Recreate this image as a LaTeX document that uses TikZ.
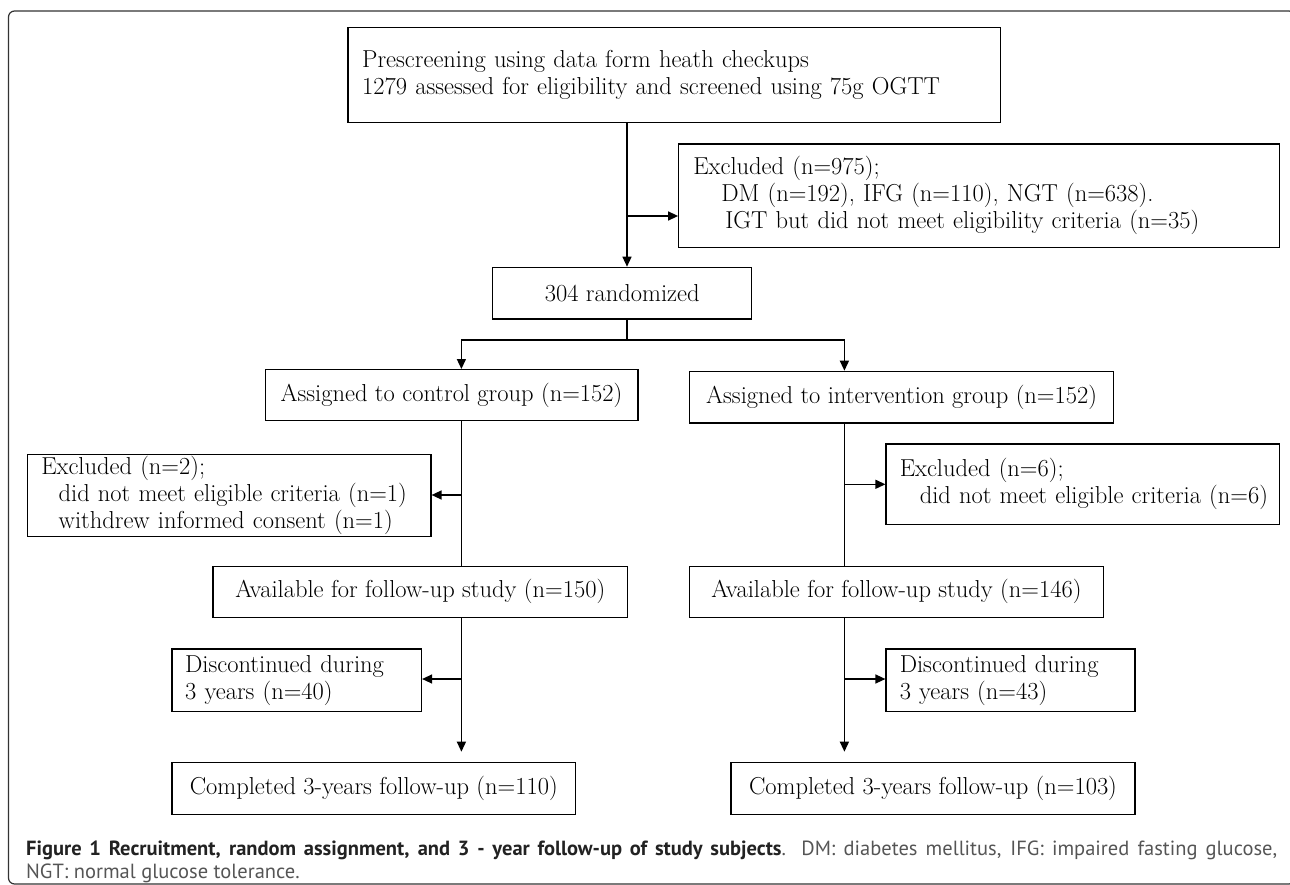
\documentclass[tikz,border=0pt]{standalone}
\usepackage{fontspec}
\newfontfamily\capfont{PT Sans}
\usetikzlibrary{arrows.meta,calc}
\definecolor{capgray}{HTML}{555555}
\definecolor{capdark}{HTML}{222222}
\definecolor{framec}{HTML}{333333}
\begin{document}
\begin{tikzpicture}[x=1pt,y=-1pt,
  bx/.style={draw, line width=1.3pt, inner sep=0pt, anchor=north west, font=\fontsize{24.5}{27}\selectfont},
  cbox/.style={bx, align=center},
  lbox/.style={bx, align=left},
  conn/.style={line width=1.4pt},
  arr/.style={conn, -{Triangle[length=10pt,width=9pt]}},
  capstyle/.style={anchor=base west, inner sep=0pt, font=\capfont\fontsize{20.5}{23}\selectfont}]
\useasboundingbox (0,0) rectangle (1290,885);
\draw[framec, line width=1.2pt, rounded corners=6pt] (8.5,11) rectangle (1295,884);

% boxes
\node[lbox, text width=623.9pt, inner xsep=14.1pt, minimum height=95pt] (pre) at (347.4,27)
  {Prescreening using data form heath checkups\\1279 assessed for eligibility and screened using 75g OGTT};
\node[lbox, text width=571.6pt, inner xsep=14.6pt, minimum height=103.4pt] (ex1) at (678.1,143.3)
  {Excluded (n=975);\\\hspace*{28pt}DM (n=192), IFG (n=110), NGT (n=638).\\\hspace*{32pt}IGT but did not meet eligibility criteria (n=35)};
\node[cbox, minimum width=259pt, minimum height=51.6pt] (rand) at (492.1,266.7) {304 randomized};
\node[cbox, minimum width=372.7pt, minimum height=51pt] (ctrl) at (264.5,369) {Assigned to control group (n=152)};
\node[cbox, minimum width=424.1pt, minimum height=51.6pt] (intv) at (688.9,370.7) {Assigned to intervention group (n=152)};
\node[lbox, text width=375.6pt, inner xsep=14.1pt, minimum height=82.3pt] (ex2) at (26.5,453.7)
  {Excluded (n=2);\\\hspace*{17.4pt}did not meet eligible criteria (n=1)\\\hspace*{17.4pt}withdrew informed consent (n=1)};
\node[lbox, text width=366.1pt, inner xsep=13.7pt, minimum height=80.7pt] (ex3) at (885.4,443.3)
  {Excluded (n=6);\\\hspace*{20pt}\mbox{did not meet eligible criteria (n=6)}};
\node[cbox, minimum width=414.6pt, minimum height=51pt] (avc) at (212.3,565.7) {Available for follow-up study (n=150)};
\node[cbox, minimum width=413.8pt, minimum height=51pt] (avi) at (688.9,565.7) {Available for follow-up study (n=146)};
\node[lbox, text width=223pt, inner xsep=13.3pt, minimum height=62.4pt] (dcc) at (171.2,648.3)
  {Discontinued during\\3 years (n=40)};
\node[lbox, text width=221.4pt, inner xsep=13.7pt, minimum height=62.4pt] (dci) at (885.4,648.3)
  {Discontinued during\\3 years (n=43)};
\node[cbox, minimum width=403.8pt, minimum height=52.3pt] (cpc) at (171.2,761.7) {Completed 3-years follow-up (n=110)};
\node[cbox, minimum width=403.8pt, minimum height=52.3pt] (cpi) at (730.4,761.7) {Completed 3-years follow-up (n=103)};

% junction coordinates
\coordinate (xa) at (627,0);
\coordinate (j1) at (627,216);
\coordinate (j2) at (627,340);
\coordinate (xl) at (461.4,340);
\coordinate (xr) at (844.4,340);
\coordinate (jl1) at (461.4,495);
\coordinate (jr1) at (844.4,484.3);
\coordinate (jl2) at (461.4,679);
\coordinate (jr2) at (844.4,679);

% connectors
\draw[arr] (pre.south -| xa) -- (rand.north -| xa);
\draw[arr] (j1) -- (j1 -| ex1.west);
\draw[conn] (rand.south -| xa) -- (j2);
\draw[arr] (j2) -- (xl) -- (ctrl.north -| xl);
\draw[arr] (j2) -- (xr) -- (intv.north -| xr);
\draw[conn] (ctrl.south -| xl) -- (avc.north -| xl);
\draw[conn] (intv.south -| xr) -- (avi.north -| xr);
\draw[arr] (jl1) -- (jl1 -| ex2.east);
\draw[arr] (jr1) -- (jr1 -| ex3.west);
\draw[arr, shorten >=10pt] (avc.south -| xl) -- (cpc.north -| xl);
\draw[arr, shorten >=10pt] (avi.south -| xr) -- (cpi.north -| xr);
\draw[arr] (jl2) -- (jl2 -| dcc.east);
\draw[arr] (jr2) -- (jr2 -| dci.west);

% caption
\node[capstyle] (cap1) at (26,855) {\makebox[1251pt][s]{\color{capdark}\textbf{Figure 1 Recruitment, random assignment, and 3 - year follow-up of study subjects}\color{capgray}. DM: diabetes mellitus, IFG: impaired fasting glucose,}};
\node[capstyle, text=capgray] (cap2) at (26,878) {NGT: normal glucose tolerance.};
\end{tikzpicture}
\end{document}
